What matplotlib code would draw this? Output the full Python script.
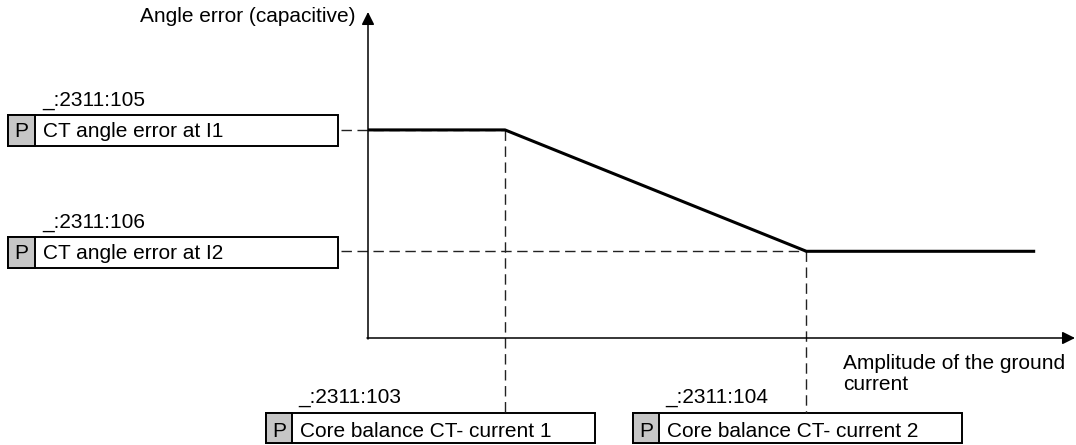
import numpy as np
import matplotlib.pyplot as plt
from matplotlib.patches import Rectangle

plt.rcParams['font.family'] = ['Liberation Sans', 'DejaVu Sans']

# characteristic: ground current amplitude vs angle error (arbitrary units)
current = [0.0, 1.0, 3.2, 4.87]
angle = [2.4, 2.4, 1.0, 1.0]
I1, I2 = current[1], current[2]
err1, err2 = angle[1], angle[2]

param_ids = ['_:2311:105', '_:2311:106', '_:2311:103', '_:2311:104']
param_names = ['CT angle error at I1', 'CT angle error at I2',
               'Core balance CT- current 1', 'Core balance CT- current 2']

W, H = 1076, 445
fig = plt.figure(figsize=(W / 100, H / 100), dpi=100)

# overlay in image pixel coords for boxes / labels
ov = fig.add_axes([0, 0, 1, 1])
ov.set_xlim(0, W)
ov.set_ylim(H, 0)
ov.axis('off')

# data axes, origin at (368, 338) px
x0, y0, xtop, ytop = 368, 338, W, 15
ax = fig.add_axes([x0 / W, (H - y0) / H, (xtop - x0) / W, (y0 - ytop) / H])
ax.set_xlim(0, (xtop - x0) / 137.0)
ax.set_ylim(0, (y0 - ytop) / 86.7)
ax.axis('off')
ax.patch.set_alpha(0)

ax.plot(current, angle, color='black', lw=2.2, solid_capstyle='butt', zorder=3)

# axes arrows
ov.annotate('', xy=(x0, 12), xytext=(x0, y0 + 1),
            arrowprops=dict(arrowstyle='-|>', color='black', lw=1.1,
                            mutation_scale=19, shrinkA=0, shrinkB=0))
ov.annotate('', xy=(W - 1, y0), xytext=(x0 - 1, y0),
            arrowprops=dict(arrowstyle='-|>', color='black', lw=1.1,
                            mutation_scale=19, shrinkA=0, shrinkB=0))

def to_px(x, y):
    d = ax.transData.transform((x, y))
    return ov.transData.inverted().transform(d)

dash = dict(color='#222222', lw=1.0, ls=(0, (7.5, 4)), zorder=2)
fs = 15

# left boxes
box_w, box_h, p_w = 330, 31, 27
left_rows = [(115, err1, I1), (237, err2, I2)]
for i, (top, yv, xv) in enumerate(left_rows):
    ov.add_patch(Rectangle((8, top), box_w, box_h, fc='white', ec='black', lw=1.4))
    ov.add_patch(Rectangle((8, top), p_w, box_h, fc='#c6c6c6', ec='black', lw=1.4))
    ov.text(8 + p_w / 2, top + 22, 'P', ha='center', va='baseline', fontsize=fs)
    ov.text(43, top + 22, param_names[i], ha='left', va='baseline', fontsize=fs)
    ov.text(42, top - 9, param_ids[i], ha='left', va='baseline', fontsize=fs)
    px, py = to_px(xv, yv)
    ov.plot([8 + box_w + 3, px], [py, py], **dash)

# bottom boxes
bot_rows = [(266, I1, err1), (633, I2, err2)]
for j, (left, xv, yv) in enumerate(bot_rows):
    top = 413
    ov.add_patch(Rectangle((left, top), box_w - 1, 30, fc='white', ec='black', lw=1.4))
    ov.add_patch(Rectangle((left, top), p_w - 1, 30, fc='#c6c6c6', ec='black', lw=1.4))
    ov.text(left + p_w / 2, top + 24, 'P', ha='center', va='baseline', fontsize=fs)
    ov.text(left + 34, top + 24, param_names[2 + j], ha='left', va='baseline', fontsize=fs)
    ov.text(left + 32, top - 10, param_ids[2 + j], ha='left', va='baseline', fontsize=fs)
    px, py = to_px(xv, yv)
    ov.plot([px, px], [py, top], **dash)

ov.text(356, 22, 'Angle error (capacitive)', ha='right', va='baseline', fontsize=fs)
ov.text(843, 369, 'Amplitude of the ground', ha='left', va='baseline', fontsize=fs)
ov.text(843, 390, 'current', ha='left', va='baseline', fontsize=fs)

fig.savefig('out.png', dpi=100, facecolor='white')
